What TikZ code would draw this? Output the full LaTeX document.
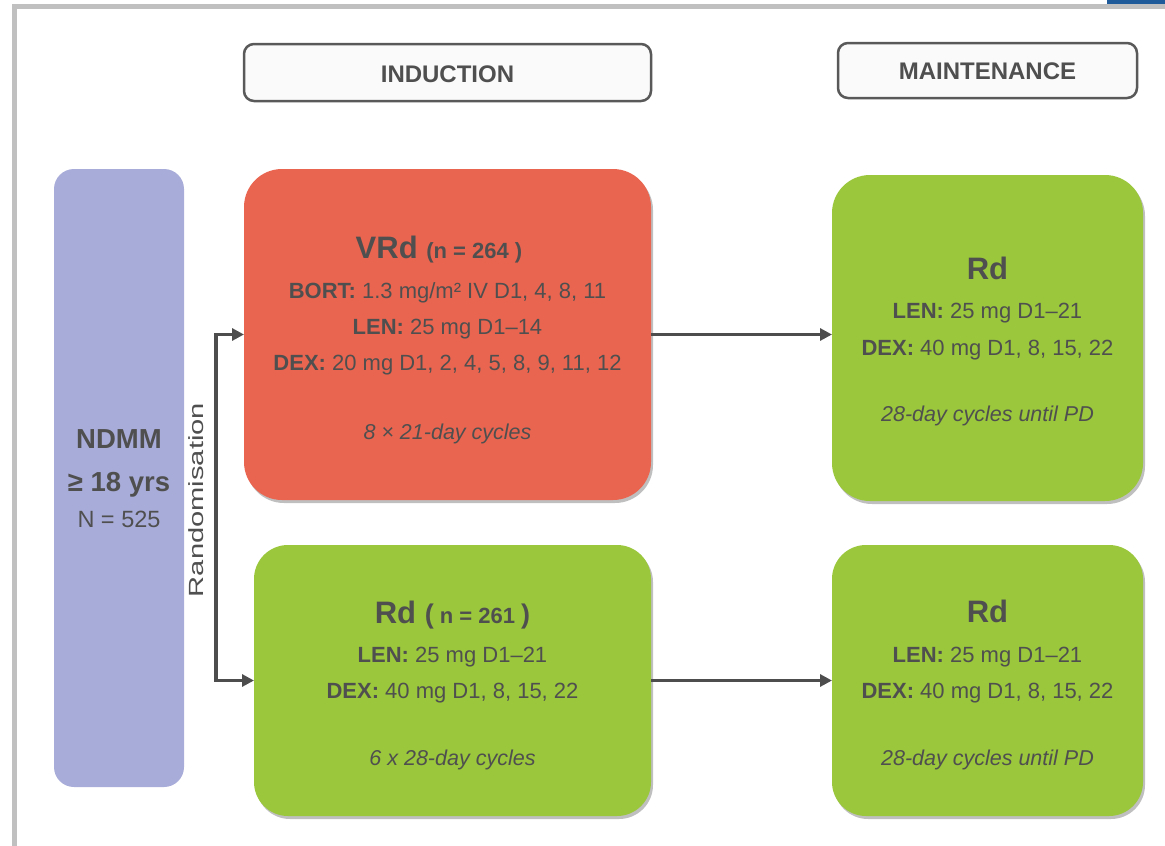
\documentclass[tikz,border=0pt]{standalone}
\usepackage{fontspec}
\setmainfont{Liberation Sans}
\usetikzlibrary{arrows.meta,shadows,calc}
\definecolor{txt}{HTML}{4F4F4F}
\definecolor{redb}{HTML}{EA6550}
\definecolor{greenb}{HTML}{9AC73B}
\definecolor{purb}{HTML}{A8ACD8}
\definecolor{hdrline}{HTML}{595959}
\definecolor{hdrfill}{HTML}{FAFAFA}
\definecolor{framegray}{HTML}{C0C0C0}
\definecolor{bluebar}{HTML}{1F5A9A}
\definecolor{arrowgray}{HTML}{4D4D4D}
\newcommand\fsz[1]{\fontsize{#1}{#1}\selectfont}
\begin{document}
\begin{tikzpicture}[x=1pt,y=-1pt,
  basebox/.style={draw=none, inner sep=0pt, outer sep=0pt},
  drugbox/.style={basebox, rounded corners=38pt,
    drop shadow={shadow xshift=2pt, shadow yshift=-3pt, opacity=0.25, fill=black}},
  hdrbox/.style={draw=hdrline, fill=hdrfill, line width=2.5pt, rounded corners=10pt, inner sep=0pt},
  hdrtext/.style={anchor=base, text=txt, font=\fsz{24}\bfseries, inner sep=0pt},
  title/.style={anchor=base, text=txt, font=\fsz{31}\bfseries, inner sep=0pt},
  line/.style={anchor=base, text=txt, font=\fsz{22}, inner sep=0pt},
  cyc/.style={anchor=base, text=txt, font=\fsz{21.5}\itshape, inner sep=0pt},
  arr/.style={draw=arrowgray, line width=3.5pt, -{Triangle[length=12pt,width=12pt]}},
  arr2/.style={draw=arrowgray, line width=3.5pt, line join=miter,
    {Triangle[length=12pt,width=12pt]}-{Triangle[length=12pt,width=12pt]}}
]
\useasboundingbox (0,0) rectangle (1165,846);
\fill[white] (0,0) rectangle (1165,846);
% frame
\draw[framegray, line width=5pt] (14.5,846) -- (14.5,6.5) -- (1165,6.5);
\fill[bluebar] (1107,0) rectangle (1165,3.5);

% headers
\node[hdrbox, minimum width=407pt, minimum height=57pt] (hind) at (447.5,72.5) {};
\node[hdrtext] (hindt) at (447.5,82) {INDUCTION};
\node[hdrbox, minimum width=299pt, minimum height=55pt] (hmnt) at (987.5,70.5) {};
\node[hdrtext] (hmntt) at (987.5,79.5) {MAINTENANCE};

% NDMM
\node[basebox, fill=purb, rounded corners=20pt, minimum width=130pt, minimum height=618pt] (ndmm) at (119,478) {};
\node[anchor=base, text=txt, font=\fsz{27.5}\bfseries, inner sep=0pt] (ndmm1) at (119,448) {NDMM};
\node[anchor=base, text=txt, font=\fsz{27.5}\bfseries, inner sep=0pt] (ndmm2) at (119,491) {≥ 18 yrs};
\node[anchor=base, text=txt, font=\fsz{23.5}, inner sep=0pt] (ndmm3) at (119,527) {N = 525};

% induction boxes
\node[drugbox, fill=redb, minimum width=407pt, minimum height=331pt] (vrd) at (447.5,334.5) {};
\node[title] (vrdt) at (439,258) {VRd {\fsz{22}(n = 264 )}};
\node[line] (vrd1) at (447.5,298) {\textbf{BORT:} 1.3 mg/m² IV D1, 4, 8, 11};
\node[line] (vrd2) at (447.5,334) {\textbf{LEN:} 25 mg D1–14};
\node[line] (vrd3) at (447.5,370) {\textbf{DEX:} 20 mg D1, 2, 4, 5, 8, 9, 11, 12};
\node[cyc] (vrd4) at (447.5,439) {8 × 21-day cycles};

\node[drugbox, fill=greenb, rounded corners=34pt, minimum width=397pt, minimum height=271pt] (rdi) at (452.5,680.5) {};
\node[title] (rdit) at (452.5,623) {Rd {\fsz{27}(}{\fsz{22} n = 261 }{\fsz{27})}};
\node[line] (rdi1) at (452.5,662) {\textbf{LEN:} 25 mg D1–21};
\node[line] (rdi2) at (452.5,698) {\textbf{DEX:} 40 mg D1, 8, 15, 22};
\node[cyc] (rdi3) at (452.5,765) {6 x 28-day cycles};

% maintenance boxes
\node[drugbox, fill=greenb, minimum width=311pt, minimum height=326pt] (mt) at (987.5,338) {};
\node[title] (mtt) at (987.5,279) {Rd};
\node[line] (mt1) at (987.5,318) {\textbf{LEN:} 25 mg D1–21};
\node[line] (mt2) at (987.5,355) {\textbf{DEX:} 40 mg D1, 8, 15, 22};
\node[cyc] (mt3) at (987.5,421) {28-day cycles until PD};

\node[drugbox, fill=greenb, rounded corners=34pt, minimum width=311pt, minimum height=271pt] (mb) at (987.5,680.5) {};
\node[title] (mbt) at (987.5,622) {Rd};
\node[line] (mb1) at (987.5,662) {\textbf{LEN:} 25 mg D1–21};
\node[line] (mb2) at (987.5,698) {\textbf{DEX:} 40 mg D1, 8, 15, 22};
\node[cyc] (mb3) at (987.5,765) {28-day cycles until PD};

% randomisation
\coordinate (fork) at (216,506);
\draw[arr2] (vrd.west) -| (fork) |- (rdi.west);
\node[rotate=90, text=txt, font=\fsz{20.5}, inner sep=0pt] (rand) at (196.5,500) {\scalebox{1.42}[1]{Randomisation}};

% arrows to maintenance
\draw[arr] (vrd.east) -- (vrd.east -| mt.west);
\draw[arr] (rdi.east) -- (rdi.east -| mb.west);
\end{tikzpicture}
\end{document}
